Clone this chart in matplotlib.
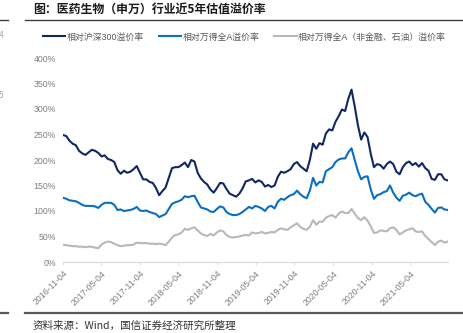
import matplotlib
matplotlib.use("Agg")
import matplotlib.pyplot as plt
import matplotlib.dates as mdates
from matplotlib.ticker import FixedLocator, FuncFormatter
import pandas as pd

plt.rcParams['font.family'] = ['Noto Sans CJK SC', 'DejaVu Sans']

TITLE = "图：医药生物（申万）行业近5年估值溢价率"
SOURCE = "资料来源：Wind，国信证券经济研究所整理"
START, END = "2016-11-04", "2021-10-29"
LABELS = ["相对沪深300溢价率", "相对万得全A溢价率", "相对万得全A（非金融、石油）溢价率"]
XTICKS = ["2016-11-04", "2017-05-04", "2017-11-04", "2018-05-04", "2018-11-04",
          "2019-05-04", "2019-11-04", "2020-05-04", "2020-11-04", "2021-05-04"]
YTICKS = [0, 50, 100, 150, 200, 250, 300, 350, 400]

# premium, % (~semi-monthly)
hs300 = [249, 247, 238, 232, 229, 218, 213, 210, 215, 220,
         218, 214, 207, 209, 202, 200, 196, 180, 173, 179,
         175, 177, 182, 188, 175, 162, 162, 157, 155, 145,
         131, 139, 146, 165, 184, 186, 186, 190, 195, 186,
         200, 197, 175, 164, 157, 152, 142, 136, 145, 155,
         154, 143, 134, 131, 128, 134, 144, 158, 160, 163,
         156, 160, 157, 148, 151, 147, 150, 167, 177, 175,
         178, 182, 192, 196, 188, 183, 178, 200, 232, 222,
         233, 230, 252, 260, 258, 275, 286, 299, 296, 320,
         338, 305, 268, 240, 254, 245, 212, 186, 192, 190,
         183, 192, 197, 192, 177, 172, 186, 194, 197, 190,
         194, 187, 194, 184, 179, 163, 161, 172, 172, 162,
         160]
wind_a = [126, 124, 121, 120, 119, 116, 112, 110, 110, 110,
          109, 106, 112, 116, 116, 116, 112, 102, 103, 100,
          101, 102, 104, 108, 101, 100, 101, 98, 96, 94,
          88, 91, 94, 104, 114, 117, 119, 122, 129, 127,
          129, 130, 118, 107, 105, 103, 99, 98, 104, 109,
          107, 98, 94, 92, 92, 94, 98, 103, 108, 105,
          110, 108, 105, 100, 108, 110, 105, 118, 124, 122,
          127, 131, 133, 140, 133, 128, 125, 140, 165, 150,
          157, 156, 178, 182, 186, 196, 201, 203, 203, 215,
          223, 200, 178, 162, 167, 168, 142, 124, 131, 133,
          137, 139, 150, 136, 126, 120, 130, 132, 136, 131,
          129, 132, 134, 118, 112, 104, 97, 106, 107, 103,
          102]
wind_a_ex = [34, 33, 32, 31, 31, 30, 30, 29, 30, 30,
             28, 27, 34, 38, 40, 39, 36, 33, 31, 32,
             33, 33, 34, 38, 37, 37, 37, 36, 36, 35,
             36, 35, 33, 40, 48, 53, 54, 58, 65, 63,
             66, 68, 62, 56, 53, 51, 55, 52, 58, 62,
             60, 53, 49, 48, 49, 50, 52, 53, 52, 58,
             56, 57, 59, 56, 57, 59, 58, 63, 66, 64,
             63, 68, 72, 76, 69, 65, 63, 69, 82, 73,
             79, 79, 87, 90, 92, 87, 95, 99, 96, 96,
             104, 95, 86, 82, 88, 81, 70, 57, 58, 62,
             61, 60, 66, 68, 63, 54, 58, 62, 64, 66,
             60, 59, 60, 51, 45, 39, 33, 40, 42, 38,
             40]

COLORS = ["#0f2864", "#0a6fc2", "#b8b8b8"]
W, H = 464, 333

dates = pd.date_range(START, END, periods=len(hs300))

fig = plt.figure(figsize=(W / 100, H / 100), dpi=100)
ax = fig.add_axes([63 / W, 1 - 262 / H, (447.7 - 63) / W, 204 / H])

for ser, col, lab in zip([hs300, wind_a, wind_a_ex], COLORS, LABELS):
    ax.plot(dates, ser, color=col, lw=1.5, label=lab, solid_joinstyle="round")

ax.set_xlim(pd.Timestamp(START), pd.Timestamp(END))
ax.set_ylim(0, 400)
for s in ["top", "right", "left"]:
    ax.spines[s].set_visible(False)
ax.spines["bottom"].set_color("#d9d9d9")
ax.spines["bottom"].set_linewidth(0.8)

tick_font = ["Liberation Sans", "Noto Sans CJK SC"]
ax.yaxis.set_major_locator(FixedLocator(YTICKS))
ax.yaxis.set_major_formatter(FuncFormatter(lambda v, p: f"{v:.0f}%"))
ax.tick_params(axis="y", length=0, pad=5, labelsize=6.3, labelcolor="#7f7f7f")
for t in ax.get_yticklabels():
    t.set_family(tick_font)

ax.set_xticks([pd.Timestamp(d) for d in XTICKS])
ax.xaxis.set_major_formatter(mdates.DateFormatter("%Y-%m-%d"))
ax.tick_params(axis="x", length=2, width=0.6, color="#d9d9d9", pad=3,
               labelsize=6.3, labelcolor="#7f7f7f")
for t in ax.get_xticklabels():
    t.set_rotation(45)
    t.set_ha("right")
    t.set_va("top")
    t.set_rotation_mode("anchor")
    t.set_family(tick_font)

leg = fig.legend(loc="center", bbox_to_anchor=(0.527, 1 - 37 / H), ncol=3,
                 frameon=False, handlelength=2.5, handletextpad=0.15,
                 columnspacing=1.7, prop={"family": tick_font, "size": 6.4})
for t in leg.get_texts():
    t.set_color("#595959")

fig.text(33 / W, 1 - 9 / H, TITLE, fontsize=8.6, fontweight="bold",
         color="#1a1a1a", va="center", ha="left")
fig.text(33 / W, 1 - 326 / H, SOURCE, fontsize=7.6, color="#333333",
         va="center", ha="left")
# neighbouring-column fragments on the left edge
fig.text(-1 / W, 1 - 35 / H, "4", fontsize=6, color="#a6a6a6", va="center")
fig.text(-1 / W, 1 - 96 / H, "5", fontsize=6, color="#a6a6a6", va="center")

fig.add_artist(plt.Line2D([25 / W, 1], [1 - 20 / H] * 2, color="#404040", lw=1.0))
fig.add_artist(plt.Line2D([0, 8 / W], [1 - 20 / H] * 2, color="#404040", lw=1.0))
fig.add_artist(plt.Line2D([25 / W, 1], [1 - 313 / H] * 2, color="#595959", lw=1.6))
fig.add_artist(plt.Line2D([0, 8 / W], [1 - 313 / H] * 2, color="#595959", lw=1.6))

fig.savefig("out.png", dpi=100)
